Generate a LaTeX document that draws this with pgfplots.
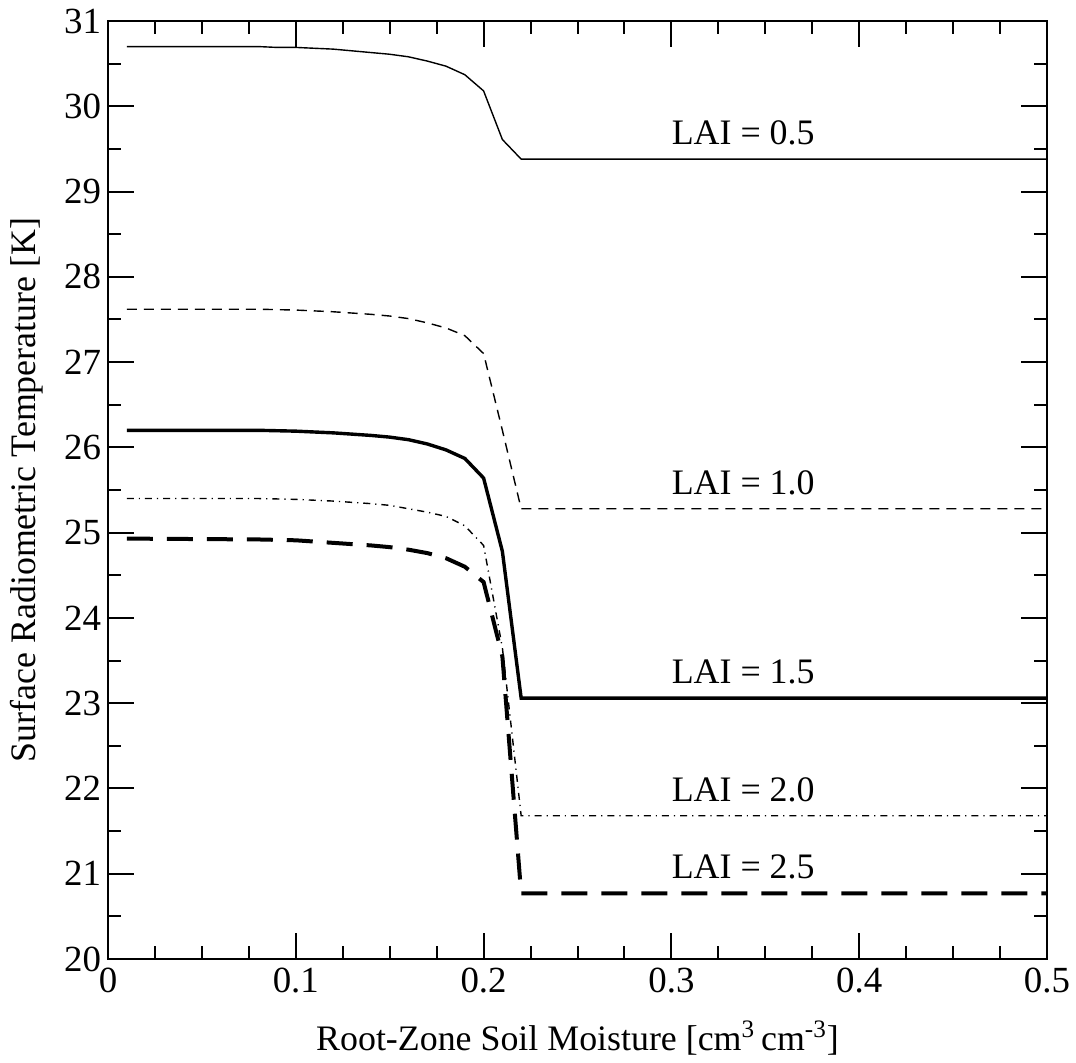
\documentclass[border=0pt]{standalone}
\usepackage{pgfplots}
\pgfplotsset{compat=1.18}
\usepackage{fontspec}
\setmainfont{Liberation Serif}

\begin{document}
\begin{tikzpicture}
% fixed page frame around the axis box
\useasboundingbox (-54bp,-52bp) rectangle (484bp,479.5bp);
\begin{axis}[
  at={(0,0)}, anchor=south west,
  scale only axis,
  width=469.5bp, height=469bp,
  xmin=0, xmax=0.5, ymin=20, ymax=31,
  xtick={0,0.1,0.2,0.3,0.4,0.5},
  xticklabels={0,0.1,0.2,0.3,0.4,0.5},
  ytick={20,21,...,31},
  yticklabels={20,21,22,23,24,25,26,27,28,29,30,31},
  minor x tick num=3,
  minor y tick num=1,
  tick align=inside,
  major tick length=13bp,
  minor tick length=6.5bp,
  every tick/.style={black, line width=1bp},
  axis line style={line width=1bp},
  /pgf/number format/assume math mode=true,
  tick label style={font=\fontsize{18.5}{20}\selectfont},
  xticklabel style={yshift=-1bp},
  label style={font=\fontsize{18}{20}\selectfont},
  xlabel={Root-Zone Soil Moisture [cm\textsuperscript{3}\,cm\textsuperscript{-3}]},
  ylabel={Surface Radiometric Temperature [K]},
  xlabel style={at={(axis description cs:0.5,0)}, anchor=base, yshift=-45.5bp},
  ylabel style={at={(axis description cs:-0.0863,0.5)}, anchor=center},
  clip=true,
]

% LAI = 0.5
\addplot[black, line width=0.7bp] coordinates {
 (0.01,30.70) (0.02,30.70) (0.03,30.70) (0.04,30.70) (0.05,30.70)
 (0.06,30.70) (0.07,30.70) (0.08,30.70) (0.09,30.69) (0.10,30.69)
 (0.11,30.68) (0.12,30.67) (0.13,30.65) (0.14,30.63) (0.15,30.61)
 (0.16,30.58) (0.17,30.53) (0.18,30.47) (0.19,30.37) (0.20,30.18)
 (0.21,29.61) (0.22,29.38) (0.50,29.38)
};

% LAI = 1.0
\addplot[black, line width=0.7bp, dash pattern=on 5bp off 3.5bp] coordinates {
 (0.01,27.62) (0.08,27.62) (0.10,27.61) (0.12,27.59) (0.14,27.56)
 (0.15,27.54) (0.16,27.51) (0.17,27.46) (0.18,27.40) (0.19,27.31)
 (0.20,27.10) (0.21,26.20) (0.22,25.28) (0.50,25.28)
};

% LAI = 1.5
\addplot[black, line width=1.7bp] coordinates {
 (0.01,26.20) (0.08,26.20) (0.10,26.19) (0.12,26.17) (0.14,26.14)
 (0.15,26.12) (0.16,26.09) (0.17,26.04) (0.18,25.97) (0.19,25.87)
 (0.20,25.64) (0.21,24.78) (0.22,23.06) (0.50,23.06)
};

% LAI = 2.0
\addplot[black, line width=0.7bp, dash pattern=on 3.5bp off 2.5bp on 0.6bp off 2.5bp] coordinates {
 (0.01,25.40) (0.08,25.40) (0.10,25.39) (0.12,25.37) (0.14,25.34)
 (0.15,25.32) (0.16,25.28) (0.17,25.24) (0.18,25.19) (0.19,25.08)
 (0.20,24.85) (0.21,23.65) (0.22,21.68) (0.50,21.68)
};

% LAI = 2.5
\addplot[black, line width=2bp, dash pattern=on 13bp off 7bp] coordinates {
 (0.01,24.93) (0.08,24.92) (0.10,24.91) (0.12,24.88) (0.14,24.85)
 (0.15,24.83) (0.16,24.80) (0.17,24.76) (0.18,24.70) (0.19,24.60)
 (0.20,24.42) (0.21,23.55) (0.22,20.77) (0.50,20.77)
};

\begin{scope}[every node/.style={anchor=base west, inner sep=0pt, font=\fontsize{18}{20}\selectfont}]
\node at (axis cs:0.3,29.55) {LAI = 0.5};
\node at (axis cs:0.3,25.45) {LAI = 1.0};
\node at (axis cs:0.3,23.23) {LAI = 1.5};
\node at (axis cs:0.3,21.85) {LAI = 2.0};
\node at (axis cs:0.3,20.94) {LAI = 2.5};
\end{scope}
\end{axis}
\end{tikzpicture}
\end{document}
